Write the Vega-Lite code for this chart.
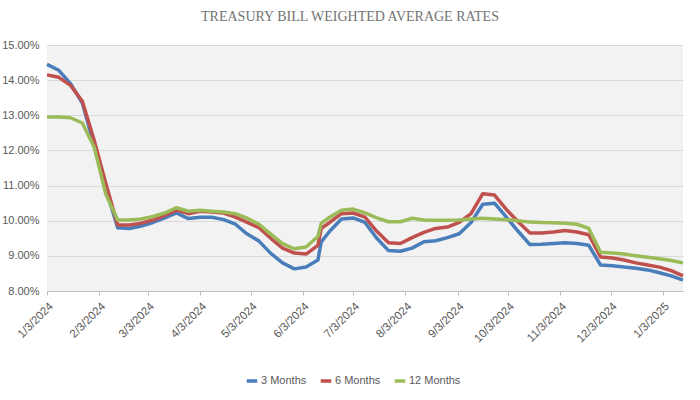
{
  "$schema": "https://vega.github.io/schema/vega-lite/v6.json",
  "width": 636,
  "height": 246,
  "autosize": {"type": "none"},
  "padding": {"left": 47, "top": 45, "right": 17, "bottom": 109},
  "background": "white",
  "title": {
    "text": "TREASURY BILL WEIGHTED AVERAGE RATES",
    "font": "Liberation Serif",
    "fontSize": 14,
    "fontWeight": "normal",
    "color": "#737373",
    "anchor": "middle",
    "dx": -15,
    "offset": 15
  },
  "config": {
    "view": {"fill": "#f2f2f2", "stroke": null},
    "axis": {
      "labelFont": "Liberation Sans",
      "labelFontSize": 11,
      "labelColor": "#595959",
      "titleColor": "#595959"
    },
    "legend": {
      "labelFont": "Liberation Sans",
      "labelFontSize": 11,
      "labelColor": "#595959"
    }
  },
  "data": {
    "values": [
      {"date": "2024-01-03", "3 Months": 14.45, "6 Months": 14.15, "12 Months": 12.95},
      {"date": "2024-01-10", "3 Months": 14.28, "6 Months": 14.08, "12 Months": 12.95},
      {"date": "2024-01-17", "3 Months": 13.9, "6 Months": 13.85, "12 Months": 12.93},
      {"date": "2024-01-24", "3 Months": 13.35, "6 Months": 13.4, "12 Months": 12.78},
      {"date": "2024-01-31", "3 Months": 12.15, "6 Months": 12.3, "12 Months": 12.1},
      {"date": "2024-02-07", "3 Months": 10.9, "6 Months": 11.05, "12 Months": 10.75},
      {"date": "2024-02-14", "3 Months": 9.8, "6 Months": 9.88, "12 Months": 10.02},
      {"date": "2024-02-21", "3 Months": 9.78, "6 Months": 9.88, "12 Months": 10.02},
      {"date": "2024-02-28", "3 Months": 9.85, "6 Months": 9.93, "12 Months": 10.05},
      {"date": "2024-03-06", "3 Months": 9.95, "6 Months": 10.02, "12 Months": 10.12},
      {"date": "2024-03-13", "3 Months": 10.08, "6 Months": 10.15, "12 Months": 10.22},
      {"date": "2024-03-20", "3 Months": 10.22, "6 Months": 10.3, "12 Months": 10.37},
      {"date": "2024-03-27", "3 Months": 10.06, "6 Months": 10.2, "12 Months": 10.27},
      {"date": "2024-04-03", "3 Months": 10.1, "6 Months": 10.27, "12 Months": 10.3},
      {"date": "2024-04-10", "3 Months": 10.1, "6 Months": 10.25, "12 Months": 10.27},
      {"date": "2024-04-17", "3 Months": 10.03, "6 Months": 10.22, "12 Months": 10.25},
      {"date": "2024-04-24", "3 Months": 9.9, "6 Months": 10.1, "12 Months": 10.2},
      {"date": "2024-05-01", "3 Months": 9.62, "6 Months": 9.95, "12 Months": 10.07},
      {"date": "2024-05-08", "3 Months": 9.42, "6 Months": 9.8, "12 Months": 9.9},
      {"date": "2024-05-15", "3 Months": 9.07, "6 Months": 9.5, "12 Months": 9.62},
      {"date": "2024-05-22", "3 Months": 8.8, "6 Months": 9.22, "12 Months": 9.35},
      {"date": "2024-05-29", "3 Months": 8.63, "6 Months": 9.08, "12 Months": 9.2},
      {"date": "2024-06-05", "3 Months": 8.68, "6 Months": 9.05, "12 Months": 9.25},
      {"date": "2024-06-12", "3 Months": 8.88, "6 Months": 9.3, "12 Months": 9.55},
      {"date": "2024-06-14", "3 Months": 9.4, "6 Months": 9.78, "12 Months": 9.93},
      {"date": "2024-06-19", "3 Months": 9.7, "6 Months": 9.95, "12 Months": 10.1},
      {"date": "2024-06-26", "3 Months": 10.05, "6 Months": 10.2, "12 Months": 10.3},
      {"date": "2024-07-03", "3 Months": 10.08, "6 Months": 10.22, "12 Months": 10.33},
      {"date": "2024-07-10", "3 Months": 9.95, "6 Months": 10.1, "12 Months": 10.22},
      {"date": "2024-07-17", "3 Months": 9.5, "6 Months": 9.7, "12 Months": 10.08},
      {"date": "2024-07-24", "3 Months": 9.15, "6 Months": 9.37, "12 Months": 9.97},
      {"date": "2024-07-31", "3 Months": 9.13, "6 Months": 9.35, "12 Months": 9.97},
      {"date": "2024-08-07", "3 Months": 9.22, "6 Months": 9.52, "12 Months": 10.07},
      {"date": "2024-08-14", "3 Months": 9.4, "6 Months": 9.67, "12 Months": 10.02},
      {"date": "2024-08-21", "3 Months": 9.43, "6 Months": 9.78, "12 Months": 10.01},
      {"date": "2024-08-28", "3 Months": 9.52, "6 Months": 9.82, "12 Months": 10.01},
      {"date": "2024-09-04", "3 Months": 9.63, "6 Months": 9.95, "12 Months": 10.02},
      {"date": "2024-09-11", "3 Months": 9.95, "6 Months": 10.2, "12 Months": 10.05},
      {"date": "2024-09-18", "3 Months": 10.47, "6 Months": 10.77, "12 Months": 10.07},
      {"date": "2024-09-25", "3 Months": 10.5, "6 Months": 10.73, "12 Months": 10.05},
      {"date": "2024-10-02", "3 Months": 10.1, "6 Months": 10.32, "12 Months": 10.03},
      {"date": "2024-10-09", "3 Months": 9.7, "6 Months": 9.97, "12 Months": 10.0},
      {"date": "2024-10-16", "3 Months": 9.32, "6 Months": 9.65, "12 Months": 9.96},
      {"date": "2024-10-23", "3 Months": 9.33, "6 Months": 9.65, "12 Months": 9.95},
      {"date": "2024-10-30", "3 Months": 9.35, "6 Months": 9.68, "12 Months": 9.94},
      {"date": "2024-11-06", "3 Months": 9.37, "6 Months": 9.72, "12 Months": 9.93},
      {"date": "2024-11-13", "3 Months": 9.35, "6 Months": 9.68, "12 Months": 9.9},
      {"date": "2024-11-20", "3 Months": 9.3, "6 Months": 9.6, "12 Months": 9.78},
      {"date": "2024-11-27", "3 Months": 8.74, "6 Months": 8.97, "12 Months": 9.1},
      {"date": "2024-12-04", "3 Months": 8.72, "6 Months": 8.94, "12 Months": 9.08},
      {"date": "2024-12-11", "3 Months": 8.68, "6 Months": 8.88, "12 Months": 9.05},
      {"date": "2024-12-18", "3 Months": 8.65, "6 Months": 8.8, "12 Months": 9.0},
      {"date": "2024-12-25", "3 Months": 8.6, "6 Months": 8.74, "12 Months": 8.96},
      {"date": "2025-01-01", "3 Months": 8.52, "6 Months": 8.68, "12 Months": 8.92},
      {"date": "2025-01-08", "3 Months": 8.43, "6 Months": 8.58, "12 Months": 8.87},
      {"date": "2025-01-15", "3 Months": 8.31, "6 Months": 8.43, "12 Months": 8.8}
    ]
  },
  "transform": [
    {"fold": ["3 Months", "6 Months", "12 Months"], "as": ["series", "rate"]}
  ],
  "mark": {"type": "line", "strokeWidth": 3.5, "strokeJoin": "round", "strokeCap": "butt"},
  "encoding": {
    "x": {
      "field": "date",
      "type": "temporal",
      "scale": {"domain": ["2024-01-03T00:00:00", "2025-01-15T00:00:00"]},
      "axis": {
        "title": null,
        "values": ["2024-01-03T00:00:00", "2024-02-03T00:00:00", "2024-03-03T00:00:00", "2024-04-03T00:00:00", "2024-05-03T00:00:00", "2024-06-03T00:00:00", "2024-07-03T00:00:00", "2024-08-03T00:00:00", "2024-09-03T00:00:00", "2024-10-03T00:00:00", "2024-11-03T00:00:00", "2024-12-03T00:00:00", "2025-01-03T00:00:00"],
        "format": "%-m/%-d/%Y",
        "labelAngle": -45,
        "labelPadding": 5,
        "grid": false,
        "domainColor": "#bfbfbf",
        "tickColor": "#bfbfbf",
        "tickSize": 4,
        "labelFontSize": 11.5
      }
    },
    "y": {
      "field": "rate",
      "type": "quantitative",
      "scale": {"domain": [8, 15], "nice": false, "zero": false},
      "axis": {
        "title": null,
        "values": [8, 9, 10, 11, 12, 13, 14, 15],
        "labelExpr": "format(datum.value, '.2f') + '%'",
        "domain": false,
        "ticks": false,
        "gridColor": "#d9d9d9",
        "labelPadding": 8
      }
    },
    "color": {
      "field": "series",
      "type": "nominal",
      "sort": ["3 Months", "6 Months", "12 Months"],
      "scale": {"domain": ["3 Months", "6 Months", "12 Months"], "range": ["#4a7ebb", "#c0504d", "#9bbb59"]},
      "legend": {
        "title": null,
        "orient": "none",
        "direction": "horizontal",
        "legendX": 198,
        "legendY": 329,
        "symbolType": "stroke",
        "symbolStrokeWidth": 3.5,
        "symbolSize": 110,
        "columnPadding": 6,
        "labelOffset": 2
      }
    }
  }
}
